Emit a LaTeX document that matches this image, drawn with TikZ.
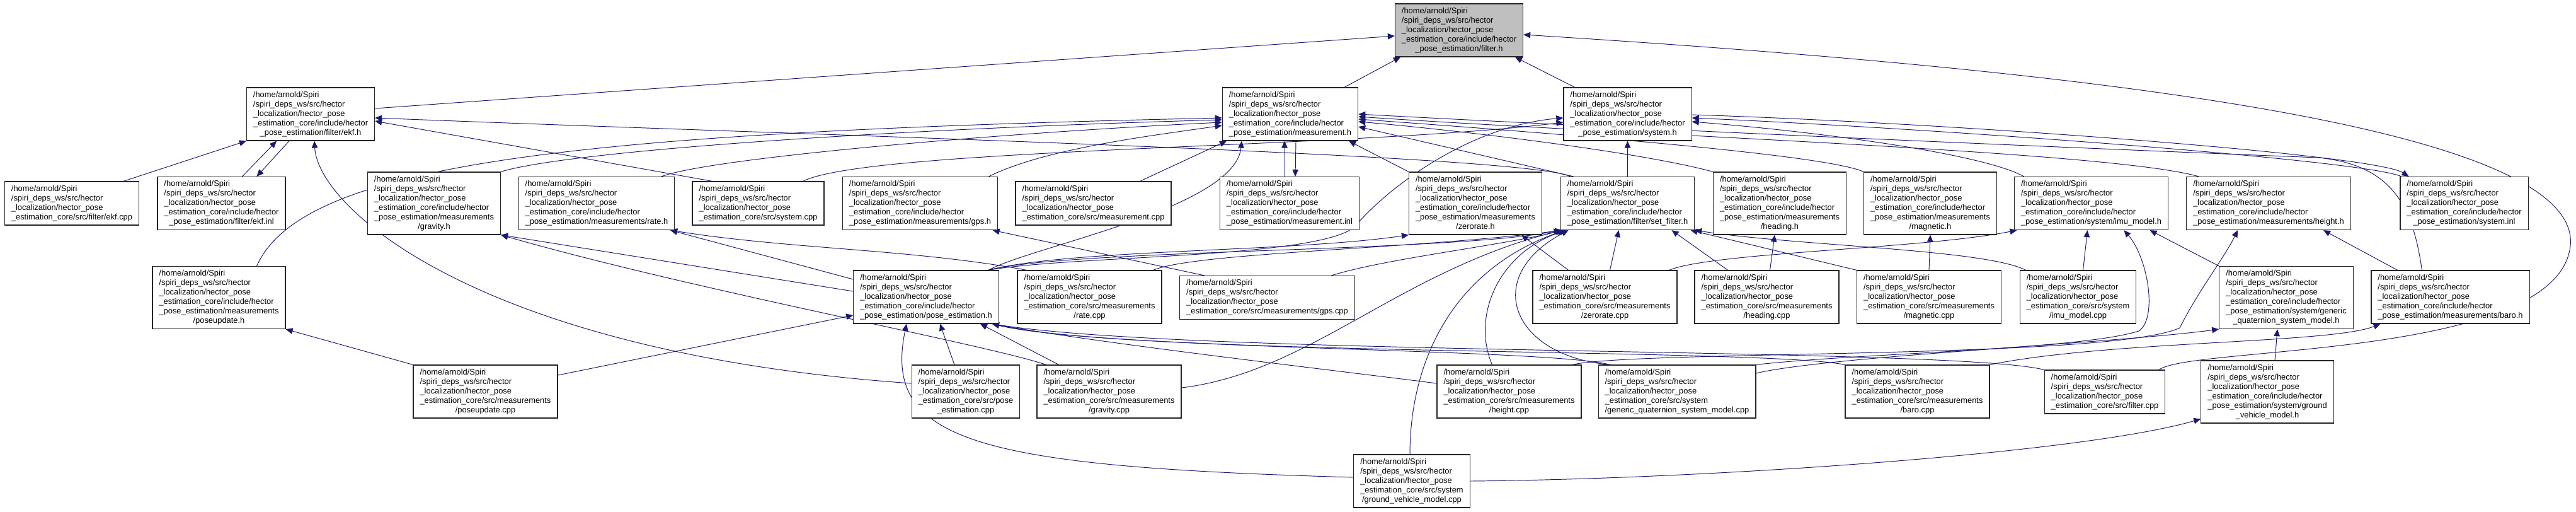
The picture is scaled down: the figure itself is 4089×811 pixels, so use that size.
\documentclass[tikz,border=0pt]{standalone}
\usepackage{fontspec}
\setmainfont{Liberation Sans}
\usetikzlibrary{arrows.meta}
\definecolor{edgeblue}{HTML}{191970}
\definecolor{rootgray}{HTML}{BFBFBF}
\pgfdeclarelayer{edges}
\pgfsetlayers{edges,main}
\newcommand{\hectorsrc}{/home/arnold/Spiri\\/spiri\_deps\_ws/src/hector\\\_localization/hector\_pose}
\newcommand{\hectorinc}{\hectorsrc\\\_estimation\_core/include/hector}
\newcommand{\depfile}[2]{\begin{tabular}{@{}l@{}}#1\\\multicolumn{1}{@{}c@{}}{#2}\end{tabular}}

\begin{document}
\begin{tikzpicture}[
      x=1pt, y=-1pt,
      font=\fontsize{12.9}{15}\selectfont,
      file/.style={rectangle, draw=black!85, fill=white, line width=1.2pt, inner xsep=10.5pt, inner ysep=4.5pt},
      root/.style={file, fill=rootgray},
      dep/.style={draw=edgeblue, line width=0.95pt, -{Triangle[length=11pt,width=9.5pt]}}
    ]
    \useasboundingbox (0,0) rectangle (4089,811);

    % Rank 0: the header itself
    \node[root] (filterh) at (2316,48) {\depfile{\hectorinc}{\_pose\_estimation/filter.h}};

    % Rank 1
    \node[file] (ekfh) at (493,181) {\depfile{\hectorinc}{\_pose\_estimation/filter/ekf.h}};
    \node[file] (measurementh) at (2048,181) {\depfile{\hectorinc}{\_pose\_estimation/measurement.h}};
    \node[file] (systemh) at (2583.5,181) {\depfile{\hectorinc}{\_pose\_estimation/system.h}};

    % Rank 2
    \node[file] (ekfcpp) at (114,322.5) {\depfile{\hectorsrc}{\_estimation\_core/src/filter/ekf.cpp}};
    \node[file] (ekfinl) at (351.5,322.5) {\depfile{\hectorinc}{\_pose\_estimation/filter/ekf.inl}};
    \node[file] (gravityh) at (689,322.5) {\depfile{\hectorinc\\\_pose\_estimation/measurements}{/gravity.h}};
    \node[file] (rateh) at (947,322.5) {\depfile{\hectorinc}{\_pose\_estimation/measurements/rate.h}};
    \node[file] (systemcpp) at (1203.5,322.5) {\depfile{\hectorsrc}{\_estimation\_core/src/system.cpp}};
    \node[file] (gpsh) at (1460.5,322.5) {\depfile{\hectorinc}{\_pose\_estimation/measurements/gps.h}};
    \node[file] (measurementcpp) at (1735.5,322.5) {\depfile{\hectorsrc}{\_estimation\_core/src/measurement.cpp}};
    \node[file] (measurementinl) at (2047,322.5) {\depfile{\hectorinc}{\_pose\_estimation/measurement.inl}};
    \node[file] (zerorateh) at (2342,322.5) {\depfile{\hectorinc\\\_pose\_estimation/measurements}{/zerorate.h}};
    \node[file] (setfilterh) at (2583.5,322.5) {\depfile{\hectorinc}{\_pose\_estimation/filter/set\_filter.h}};
    \node[file] (headingh) at (2825,322.5) {\depfile{\hectorinc\\\_pose\_estimation/measurements}{/heading.h}};
    \node[file] (magnetich) at (3064,322.5) {\depfile{\hectorinc\\\_pose\_estimation/measurements}{/magnetic.h}};
    \node[file] (imumodelh) at (3319.5,322.5) {\depfile{\hectorinc}{\_pose\_estimation/system/imu\_model.h}};
    \node[file] (heighth) at (3601,322.5) {\depfile{\hectorinc}{\_pose\_estimation/measurements/height.h}};
    \node[file] (systeminl) at (3911.5,322.5) {\depfile{\hectorinc}{\_pose\_estimation/system.inl}};

    % Rank 3
    \node[file] (poseupdateh) at (347.5,472) {\depfile{\hectorinc\\\_pose\_estimation/measurements}{/poseupdate.h}};
    \node[file] (poseestimationh) at (1470,471) {\depfile{\hectorinc}{\_pose\_estimation/pose\_estimation.h}};
    \node[file] (ratecpp) at (1729.5,471) {\depfile{\hectorsrc\\\_estimation\_core/src/measurements}{/rate.cpp}};
    \node[file] (gpscpp) at (2011.5,472) {\depfile{\hectorsrc}{\_estimation\_core/src/measurements/gps.cpp}};
    \node[file] (zeroratecpp) at (2547.5,471) {\depfile{\hectorsrc\\\_estimation\_core/src/measurements}{/zerorate.cpp}};
    \node[file] (headingcpp) at (2804.5,471) {\depfile{\hectorsrc\\\_estimation\_core/src/measurements}{/heading.cpp}};
    \node[file] (magneticcpp) at (3062,471) {\depfile{\hectorsrc\\\_estimation\_core/src/measurements}{/magnetic.cpp}};
    \node[file] (imumodelcpp) at (3298.5,471) {\depfile{\hectorsrc\\\_estimation\_core/src/system}{/imu\_model.cpp}};
    \node[file] (genericquath) at (3629,472) {\depfile{\hectorinc\\\_pose\_estimation/system/generic}{\_quaternion\_system\_model.h}};
    \node[file] (baroh) at (3889.5,471) {\depfile{\hectorinc}{\_pose\_estimation/measurements/baro.h}};

    % Rank 4
    \node[file] (poseupdatecpp) at (770.5,621) {\depfile{\hectorsrc\\\_estimation\_core/src/measurements}{/poseupdate.cpp}};
    \node[file] (poseestimationcpp) at (1533,621) {\depfile{\hectorsrc\\\_estimation\_core/src/pose}{\_estimation.cpp}};
    \node[file] (gravitycpp) at (1760.5,621) {\depfile{\hectorsrc\\\_estimation\_core/src/measurements}{/gravity.cpp}};
    \node[file] (heightcpp) at (2395.5,621) {\depfile{\hectorsrc\\\_estimation\_core/src/measurements}{/height.cpp}};
    \node[file] (genericquatcpp) at (2662,621) {\depfile{\hectorsrc\\\_estimation\_core/src/system}{/generic\_quaternion\_system\_model.cpp}};
    \node[file] (barocpp) at (3043.5,621) {\depfile{\hectorsrc\\\_estimation\_core/src/measurements}{/baro.cpp}};
    \node[file] (filtercpp) at (3341,621.5) {\depfile{\hectorsrc}{\_estimation\_core/src/filter.cpp}};
    \node[file] (groundvehicleh) at (3599,621.5) {\depfile{\hectorinc\\\_pose\_estimation/system/ground}{\_vehicle\_model.h}};

    % Rank 5
    \node[file] (groundvehiclecpp) at (2241,763) {\depfile{\hectorsrc\\\_estimation\_core/src/system}{/ground\_vehicle\_model.cpp}};

    \begin{pgfonlayer}{edges}
    % Into filter.h
    \draw[dep] ([yshift=9pt]ekfh.east) -- ([yshift=-9pt]filterh.west);
    \draw[dep] ([xshift=86pt]measurementh.north) -- ([xshift=-93pt]filterh.south);
    \draw[dep] ([xshift=-84pt]systemh.north) -- ([xshift=89pt]filterh.south);
    \draw[dep] ([xshift=86pt]filtercpp.north) .. controls (3480,548) and (4060,570) .. (4080,390) .. controls (4100,200) and (3300,110) .. ([yshift=-7pt]filterh.east);

    % Into filter/ekf.h
    \draw[dep] ([xshift=82pt]ekfcpp.north) -- (ekfh.south west);
    \draw[dep] ([xshift=33pt]ekfinl.north) -- ([xshift=-54pt]ekfh.south);
    \draw[dep] ([xshift=-34pt]ekfh.south) -- ([xshift=56pt]ekfinl.north);
    \draw[dep] ([yshift=13pt]poseestimationcpp.west) .. controls (760,560) and (505,330) .. ([xshift=6pt]ekfh.south);
    \draw[dep] ([xshift=-73pt]systemcpp.north) -- ([yshift=-11pt]ekfh.east);
    \draw[dep] ([xshift=-91pt]setfilterh.north) .. controls (2420,245) and (1300,215) .. ([yshift=-6pt]ekfh.east);

    % Into measurement.h
    \draw[dep] ([xshift=60pt]poseupdateh.north) .. controls (480,260) and (900,210) .. ([yshift=-6pt]measurementh.west);
    \draw[dep] (gravityh.north east) .. controls (900,240) and (1400,205) .. ([yshift=-9pt]measurementh.west);
    \draw[dep] ([xshift=103pt]rateh.north) .. controls (1130,250) and (1600,210) .. ([yshift=-13pt]measurementh.west);
    \draw[dep] ([xshift=109pt]gpsh.north) .. controls (1660,235) and (1830,215) .. ([yshift=-18pt]measurementh.west);
    \draw[dep] ([xshift=74pt]measurementcpp.north) -- ([xshift=-101pt]measurementh.south);
    \draw[dep] ([xshift=-8pt]measurementinl.north) -- ([xshift=-9pt]measurementh.south);
    \draw[dep] ([xshift=9pt]measurementh.south) -- ([xshift=9pt]measurementinl.north);
    \draw[dep] (zerorateh.north west) -- ([xshift=93pt]measurementh.south);
    \draw[dep] ([xshift=-86pt]setfilterh.north) -- ([yshift=-20pt]measurementh.east);
    \draw[dep] (headingh.north west) .. controls (2600,240) and (2300,205) .. ([yshift=-12pt]measurementh.east);
    \draw[dep] (magnetich.north west) .. controls (2900,245) and (2450,210) .. ([yshift=-8pt]measurementh.east);
    \draw[dep] ([xshift=-111pt]heighth.north) .. controls (3350,240) and (2600,215) .. ([yshift=-4pt]measurementh.east);
    \draw[dep] ([xshift=-45pt]baroh.north) .. controls (3830,330) and (3800,262) .. (3680,250) .. controls (3300,235) and (2600,205) .. (measurementh.east);
    \draw[dep] ([xshift=99pt]poseestimationh.north) .. controls (1640,390) and (1960,330) .. ([xshift=-77pt]measurementh.south);

    % Into system.h
    \draw[dep] ([xshift=71pt]systemcpp.north) .. controls (1380,235) and (2150,235) .. ([yshift=-13pt]systemh.west);
    \draw[dep] (setfilterh.north) -- (systemh.south);
    \draw[dep] ([xshift=-107pt]imumodelh.north) .. controls (3150,245) and (2900,210) .. ([yshift=-12pt]systemh.east);
    \draw[dep] ([xshift=-100pt]systeminl.north) .. controls (3760,255) and (3100,205) .. ([yshift=-6pt]systemh.east);
    \draw[dep] ([yshift=-1pt]systemh.east) .. controls (3100,195) and (3770,245) .. ([xshift=-88pt]systeminl.north);
    \draw[dep] ([xshift=99pt]poseestimationh.north) .. controls (1700,405) and (2090,410) .. (2150,360) .. controls (2200,300) and (2330,200) .. ([yshift=-6pt]systemh.west);

    % Into the measurement headers
    \draw[dep] (poseupdatecpp.north west) -- (poseupdateh.south east);
    \draw[dep] ([yshift=26pt]poseupdatecpp.east) -- ([yshift=-29pt]poseestimationh.west);
    \draw[dep] ([yshift=9pt]poseestimationh.west) -- (gravityh.south east);
    \draw[dep] ([yshift=28pt]poseestimationh.west) -- ([xshift=117pt]rateh.south);
    \draw[dep] ([xshift=-100pt]gravitycpp.north) .. controls (1560,545) and (1100,460) .. (gravityh.south east);
    \draw[dep] ([xshift=-100pt]ratecpp.north) .. controls (1450,395) and (1250,395) .. ([xshift=117pt]rateh.south);
    \draw[dep] ([xshift=-100pt]gpscpp.north) -- ([xshift=115pt]gpsh.south);
    \draw[dep] ([xshift=99pt]poseestimationh.north) .. controls (1700,395) and (2050,400) .. (zerorateh.south west);
    \draw[dep] ([xshift=-58pt]zeroratecpp.north) -- ([xshift=73pt]zerorateh.south);
    \draw[dep] ([xshift=5pt]headingcpp.north) -- ([xshift=-8pt]headingh.south);
    \draw[dep] (magneticcpp.north) -- (magnetich.south);

    % Into pose_estimation.h
    \draw[dep] ([yshift=6pt]groundvehiclecpp.west) .. controls (1550,740) and (1400,700) .. ([xshift=-31pt]poseestimationh.south);
    \draw[dep] ([xshift=-18pt]poseestimationcpp.north) -- ([xshift=22pt]poseestimationh.south);
    \draw[dep] ([xshift=-80pt]gravitycpp.north) -- ([xshift=86pt]poseestimationh.south);
    \draw[dep] ([yshift=13pt]heightcpp.west) .. controls (2100,585) and (1750,545) .. ([xshift=-11pt]poseestimationh.south east);
    \draw[dep] ([xshift=-106pt]genericquatcpp.north) .. controls (2450,552) and (1750,555) .. ([xshift=-11pt]poseestimationh.south east);
    \draw[dep] (barocpp.north west) .. controls (2800,552) and (1800,565) .. ([xshift=-11pt]poseestimationh.south east);
    \draw[dep] (filtercpp.north west) .. controls (3100,550) and (1900,565) .. ([xshift=-11pt]poseestimationh.south east);

    % Into filter/set_filter.h
    \draw[dep] ([xshift=99pt]poseestimationh.north) .. controls (1700,395) and (2300,400) .. ([xshift=-106pt]setfilterh.south);
    \draw[dep] ([xshift=101pt]ratecpp.north) .. controls (1900,400) and (2250,395) .. ([xshift=-104pt]setfilterh.south);
    \draw[dep] ([xshift=102pt]gpscpp.north) .. controls (2200,410) and (2380,390) .. ([xshift=-102pt]setfilterh.south);
    \draw[dep] ([yshift=6pt]gravitycpp.east) .. controls (2080,590) and (2220,430) .. ([xshift=-104pt]setfilterh.south);
    \draw[dep] ([xshift=-3pt]groundvehiclecpp.north) .. controls (2238,580) and (2300,430) .. ([xshift=-100pt]setfilterh.south);
    \draw[dep] ([xshift=-27pt]heightcpp.north) .. controls (2335,500) and (2380,400) .. ([xshift=-97pt]setfilterh.south);
    \draw[dep] ([xshift=-106pt]genericquatcpp.north) .. controls (2400,565) and (2350,440) .. ([xshift=-94pt]setfilterh.south);
    \draw[dep] ([xshift=8pt]zeroratecpp.north) -- ([xshift=-14pt]setfilterh.south);
    \draw[dep] ([xshift=-62pt]headingcpp.north) -- ([xshift=70pt]setfilterh.south);
    \draw[dep] (magneticcpp.north west) -- ([xshift=100pt]setfilterh.south);
    \draw[dep] ([xshift=-83pt]imumodelcpp.north) .. controls (3150,395) and (2850,390) .. (setfilterh.south east);

    % Into the system model headers
    \draw[dep] ([xshift=8pt]imumodelcpp.north) -- ([xshift=-6pt]imumodelh.south);
    \draw[dep] ([xshift=102pt]zeroratecpp.north) .. controls (2720,400) and (3050,395) .. ([xshift=-118pt]imumodelh.south);
    \draw[dep] (genericquatcpp.north east) .. controls (2950,560) and (3300,555) .. (3395,525) .. controls (3425,505) and (3410,410) .. ([xshift=52pt]imumodelh.south);
    \draw[dep] (genericquath.north west) -- ([xshift=93pt]imumodelh.south);
    \draw[dep] ([yshift=29pt]genericquatcpp.east) .. controls (2900,565) and (3350,545) .. (genericquath.south west);
    \draw[dep] ([xshift=12pt]groundvehicleh.north) -- ([xshift=-14pt]genericquath.south);
    \draw[dep] (groundvehiclecpp.east) .. controls (2700,760) and (3300,720) .. ([yshift=-43pt]groundvehicleh.west);

    % Into height.h and baro.h
    \draw[dep] ([xshift=100pt]heightcpp.north) .. controls (2600,555) and (3350,570) .. (3460,520) .. controls (3490,460) and (3530,410) .. ([xshift=-49pt]heighth.south);
    \draw[dep] ([xshift=-84pt]baroh.north) -- ([xshift=87pt]heighth.south);
    \draw[dep] (barocpp.north east) .. controls (3350,540) and (3700,545) .. ([xshift=-111pt]baroh.south);
    \end{pgfonlayer}

\end{tikzpicture}
\end{document}
